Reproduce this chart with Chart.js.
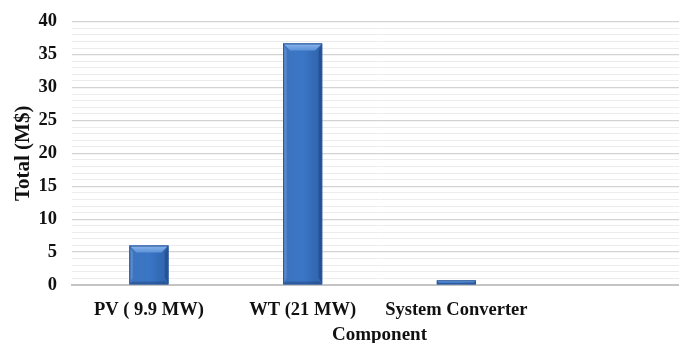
<!DOCTYPE html>
<html>
<head>
<meta charset="utf-8">
<script src="https://cdn.jsdelivr.net/npm/chart.js@4/dist/chart.umd.min.js"></script>
<style>
  html, body { margin: 0; padding: 0; background: #ffffff; overflow: hidden; }
  #wrap { width: 679px; height: 343px; overflow: hidden; }
  canvas { display: block; }
</style>
</head>
<body>
<div id="wrap"><canvas id="c" width="688" height="346"></canvas></div>
<script>
// Component cost totals, in millions of dollars
const components = ['PV ( 9.9 MW)', 'WT (21 MW)', 'System Converter', ''];
const totals = [6.0, 36.7, 0.7, null];
const yTickLabels = ['0', '5', '10', '15', '20', '25', '30', '35', '40'];

const serif = "'Liberation Serif', 'Times New Roman', serif";

// Bevelled bar face: shaded body, lighter top bevel, side strips
const bevelBars = {
  id: 'bevelBars',
  afterDatasetsDraw(chart) {
    const ctx = chart.ctx;
    const values = chart.data.datasets[0].data;
    chart.getDatasetMeta(0).data.forEach((bar, i) => {
      if (values[i] == null) return;
      const w = bar.width;
      const x0 = bar.x - w / 2, x1 = bar.x + w / 2;
      const top = Math.min(bar.y, bar.base), bot = Math.max(bar.y, bar.base);
      const h = bot - top;
      const b = Math.min(7, h / 2, w / 2);
      ctx.save();
      const g = ctx.createLinearGradient(x0, 0, x1, 0);
      g.addColorStop(0, '#3d73bd');
      g.addColorStop(0.5, '#3a76c6');
      g.addColorStop(1, '#2f62aa');
      ctx.fillStyle = g;
      ctx.fillRect(x0, top, w, h);
      // left side strip
      ctx.fillStyle = 'rgba(120,165,225,0.45)';
      ctx.beginPath();
      ctx.moveTo(x0, top); ctx.lineTo(x0 + b * 0.5, top + b);
      ctx.lineTo(x0 + b * 0.5, bot - b); ctx.lineTo(x0, bot); ctx.closePath(); ctx.fill();
      // right side strip
      ctx.fillStyle = 'rgba(20,50,100,0.35)';
      ctx.beginPath();
      ctx.moveTo(x1, top); ctx.lineTo(x1 - b * 0.5, top + b);
      ctx.lineTo(x1 - b * 0.5, bot - b); ctx.lineTo(x1, bot); ctx.closePath(); ctx.fill();
      // bottom bevel
      ctx.fillStyle = 'rgba(20,50,100,0.3)';
      ctx.beginPath();
      ctx.moveTo(x0, bot); ctx.lineTo(x0 + b * 0.5, bot - b * 0.4);
      ctx.lineTo(x1 - b * 0.5, bot - b * 0.4); ctx.lineTo(x1, bot); ctx.closePath(); ctx.fill();
      // top bevel
      const tg = ctx.createLinearGradient(0, top, 0, top + b);
      tg.addColorStop(0, '#8ab6ec');
      tg.addColorStop(1, '#5d93d8');
      ctx.fillStyle = tg;
      ctx.beginPath();
      ctx.moveTo(x0, top); ctx.lineTo(x1, top);
      ctx.lineTo(x1 - b, top + b); ctx.lineTo(x0 + b, top + b); ctx.closePath(); ctx.fill();
      // outline
      ctx.strokeStyle = '#2b5596';
      ctx.lineWidth = 1;
      ctx.strokeRect(x0 + 0.5, top + 0.5, w - 1, h - 1);
      ctx.restore();
    });
  }
};

new Chart(document.getElementById('c'), {
  type: 'bar',
  data: {
    labels: components,
    datasets: [{
      data: totals,
      backgroundColor: '#3a76c6',
      borderWidth: 0,
      categoryPercentage: 1,
      barPercentage: 0.254
    }]
  },
  options: {
    responsive: false,
    devicePixelRatio: 1,
    animation: false,
    layout: { padding: { top: 21.7, right: 1, left: 0, bottom: 0 } },
    plugins: { legend: { display: false }, tooltip: { enabled: false } },
    scales: {
      x: {
        grid: { display: false, drawTicks: false },
        border: { display: true, color: '#c4c4c4', width: 2 },
        ticks: {
          color: '#111111',
          font: { family: serif, size: 18.5, weight: 'bold' },
          padding: 14,
          maxRotation: 0,
          autoSkip: false
        },
        title: {
          display: true,
          text: 'Component',
          color: '#111111',
          font: { family: serif, size: 19, weight: 'bold' },
          padding: { top: 0, bottom: 0 }
        },
        afterFit(scale) { scale.height = 61; }
      },
      y: {
        min: 0,
        max: 40,
        border: { display: false },
        grid: {
          drawTicks: false,
          color: (c) => (c.tick.value % 5 === 0 ? '#d3d3d3' : '#ececec'),
          lineWidth: (c) => (c.tick.value % 5 === 0 ? 1.3 : 1)
        },
        ticks: {
          stepSize: 1,
          autoSkip: false,
          padding: 15,
          color: '#111111',
          font: { family: serif, size: 18.5, weight: 'bold' },
          callback: (v) => (v % 5 === 0 ? yTickLabels[v / 5] : '')
        },
        title: {
          display: true,
          text: 'Total (M$)',
          color: '#111111',
          font: { family: serif, size: 21, weight: 'bold' },
          padding: { top: 10.5, bottom: 0 }
        },
        afterFit(scale) {
          scale.width = 72;
          scale.paddingTop = 0;
          scale.paddingBottom = 0;
        }
      }
    }
  },
  plugins: [bevelBars]
});
</script>
</body>
</html>
